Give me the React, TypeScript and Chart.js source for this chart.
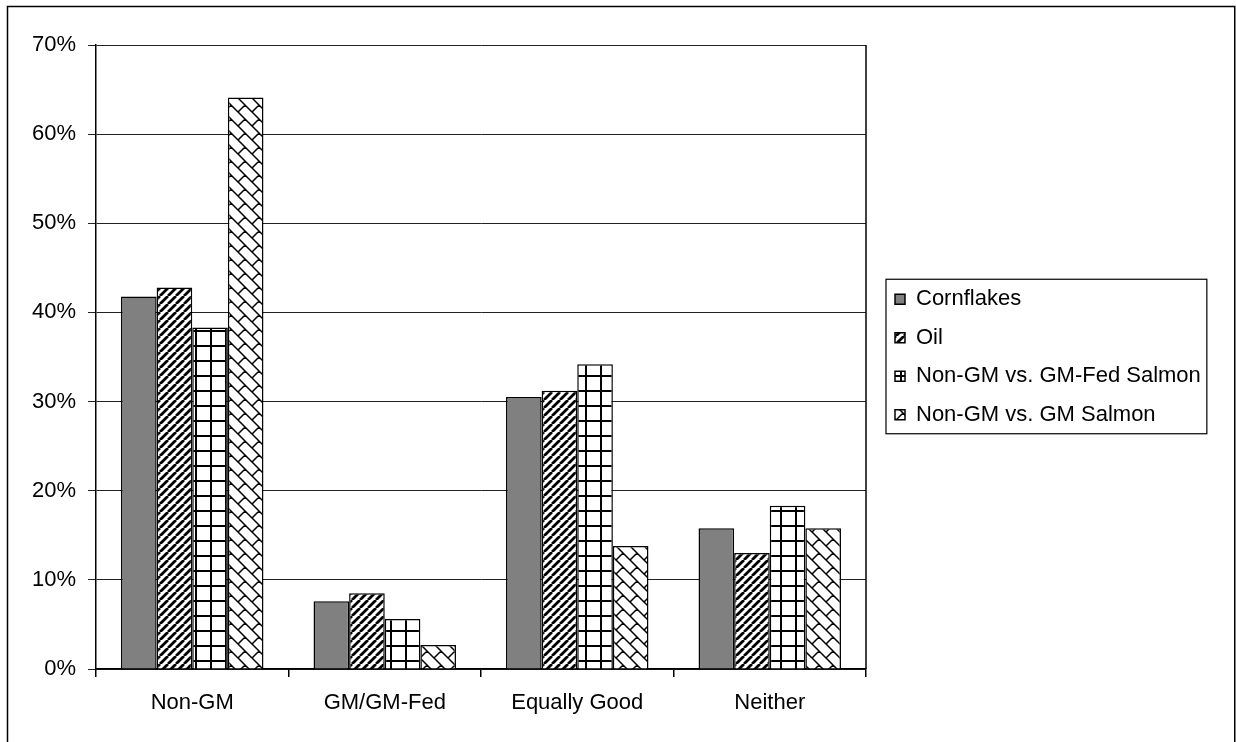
import React, { useEffect, useRef } from 'react';
import { Chart, registerables } from 'chart.js';

Chart.register(...registerables);

const categories = ['Non-GM', 'GM/GM-Fed', 'Equally Good', 'Neither'];
const seriesNames = ['Cornflakes', 'Oil', 'Non-GM vs. GM-Fed Salmon', 'Non-GM vs. GM Salmon'];
const cornflakes = [41.8, 7.6, 30.5, 15.8];
const oil = [42.8, 8.5, 31.2, 13.0];
const gmFedSalmon = [38.3, 5.6, 34.2, 18.3];
const gmSalmon = [64.1, 2.7, 13.8, 15.8];
const yMin = 0;
const yMax = 70;
const yStep = 10;

const FONT = 'Liberation Sans, Arial, sans-serif';
const FS = 22;
const LEG_PAD = 16.5;
const LEG_SHIFT = 12.5;

function makeTile(size: number, draw: (g: CanvasRenderingContext2D, s: number) => void) {
  const c = document.createElement('canvas');
  c.width = size;
  c.height = size;
  const g = c.getContext('2d') as CanvasRenderingContext2D;
  g.fillStyle = '#ffffff';
  g.fillRect(0, 0, size, size);
  g.strokeStyle = '#000000';
  g.fillStyle = '#000000';
  draw(g, size);
  return c;
}

function makePatterns(ctx: CanvasRenderingContext2D) {
  const stripes = makeTile(8, (g, s) => {
    g.lineWidth = 2.8;
    g.beginPath();
    for (let o = -s; o <= s; o += s) {
      g.moveTo(o, s);
      g.lineTo(o + s, 0);
    }
    g.stroke();
  });
  const grid = makeTile(15, (g, s) => {
    g.fillRect(0, 0, s, 2);
    g.fillRect(0, 0, 2, s);
  });
  const brick = makeTile(14, (g, s) => {
    const h = s / 2;
    g.lineWidth = 1.5;
    g.beginPath();
    for (const c of [-s, 0, s]) {
      g.moveTo(-2, c - 2);
      g.lineTo(s + 2, s + c + 2);
    }
    for (const dx of [-s, 0, s]) {
      for (const dy of [-s, 0, s]) {
        g.moveTo(h + dx, h + dy);
        g.lineTo(dx, s + dy);
      }
    }
    g.stroke();
  });
  return {
    stripes: ctx.createPattern(stripes, 'repeat'),
    grid: ctx.createPattern(grid, 'repeat'),
    brick: ctx.createPattern(brick, 'repeat'),
  };
}

const framePlugin = {
  id: 'frame',
  afterLayout(chart: any) {
    const lg = chart.legend;
    if (lg) {
      lg.left += LEG_SHIFT;
      lg.width = 345;
      lg.right = lg.left + lg.width;
    }
  },
  afterDraw(chart: any) {
    const ctx = chart.ctx as CanvasRenderingContext2D;
    const a = chart.chartArea;
    ctx.save();
    ctx.strokeStyle = '#000';
    ctx.lineWidth = 1.5;
    // plot area right edge
    ctx.beginPath();
    ctx.moveTo(a.right, a.top);
    ctx.lineTo(a.right, a.bottom);
    ctx.stroke();
    // legend border
    const lg = chart.legend;
    if (lg && lg.columnSizes && lg.columnSizes[0]) {
      const col = lg.columnSizes[0];
      ctx.font = `${FS}px ${FONT}`;
      let tw = 0;
      for (const ds of chart.data.datasets) tw = Math.max(tw, ctx.measureText(ds.label).width);
      const w = 10 + FS / 2 + tw;
      const x0 = lg.left + LEG_PAD;
      const y0 = (lg.top + LEG_PAD + lg.bottom - col.height) / 2;
      const n = chart.data.datasets.length;
      const h = (n - 1) * (FS + LEG_PAD) + FS;
      ctx.lineWidth = 1.2;
      ctx.strokeRect(x0 - 9, y0 - 9, w + 9 + 6, h + 17);
    }
    // outer frame
    ctx.lineWidth = 1.5;
    ctx.beginPath();
    ctx.moveTo(7.5, 745);
    ctx.lineTo(7.5, 6.5);
    ctx.lineTo(1234.75, 6.5);
    ctx.lineTo(1234.75, 745);
    ctx.stroke();
    ctx.restore();
  },
};

export default function App() {
  const ref = useRef<HTMLCanvasElement | null>(null);

  useEffect(() => {
    document.body.style.margin = '0';
    const canvas = ref.current;
    if (!canvas) return;
    const ctx = canvas.getContext('2d') as CanvasRenderingContext2D;
    const p = makePatterns(ctx);
    const fills: any[] = ['#808080', p.stripes, p.grid, p.brick];
    const values = [cornflakes, oil, gmFedSalmon, gmSalmon];

    const chart = new Chart(ctx, {
      type: 'bar',
      data: {
        labels: categories,
        datasets: seriesNames.map((name, i) => ({
          label: name,
          data: values[i],
          backgroundColor: fills[i],
          borderColor: '#000000',
          borderWidth: 1.5,
          categoryPercentage: 0.74,
          barPercentage: 1,
        })),
      },
      options: {
        animation: false,
        responsive: false,
        devicePixelRatio: 1,
        layout: { padding: { left: 8, top: 45, right: 84, bottom: 0 } },
        plugins: {
          legend: {
            position: 'right',
            align: 'center',
            fullSize: false,
            labels: {
              boxWidth: 10,
              boxHeight: 10,
              padding: LEG_PAD,
              color: '#000',
              font: { family: FONT, size: FS },
            },
          },
          tooltip: { enabled: false },
        },
        scales: {
          x: {
            grid: {
              display: true,
              drawOnChartArea: false,
              drawTicks: true,
              tickLength: 8,
              color: '#000',
              lineWidth: 1.5,
            },
            border: { display: true, color: '#000', width: 1.5 },
            ticks: { color: '#000', font: { family: FONT, size: FS }, padding: 13 },
            afterFit: (s: any) => {
              s.height = 73;
            },
          },
          y: {
            min: yMin,
            max: yMax,
            ticks: {
              stepSize: yStep,
              color: '#000',
              font: { family: FONT, size: FS },
              padding: 12,
              callback: (v: any) => v + '%',
            },
            grid: { color: '#222', lineWidth: 1, tickLength: 8 },
            border: { display: true, color: '#000', width: 1.5 },
            afterFit: (s: any) => {
              s.width = 88;
            },
          },
        },
      },
      plugins: [framePlugin],
    });
    return () => chart.destroy();
  }, []);

  return (
    <div style={{ position: 'fixed', left: 0, top: 0, width: 1236, height: 742, background: '#fff' }}>
      <canvas ref={ref} width={1236} height={742} style={{ display: 'block', width: 1236, height: 742 }} />
    </div>
  );
}
